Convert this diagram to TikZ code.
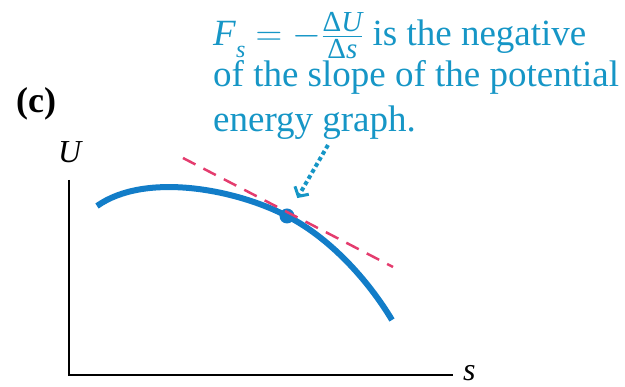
\RequirePackage{fix-cm}
\documentclass[tikz,border=0pt]{standalone}
\usepackage{amsmath}
\usepackage{fontspec}
\setmainfont{Liberation Serif}
\usetikzlibrary{arrows.meta,calc,positioning}
\definecolor{notecyan}{RGB}{22,150,198}
\definecolor{curveblue}{RGB}{18,125,200}
\definecolor{tanred}{RGB}{228,60,110}
\newcommand{\fracpart}[1]{\text{\fontsize{29}{29}\selectfont #1}}

\begin{document}
\begin{tikzpicture}[x=1pt,y=-1pt,>=Stealth,
  lbl/.style={inner sep=0pt,font=\fontsize{32}{36}\selectfont},
  note/.style={inner sep=0pt,align=left,text=notecyan,font=\fontsize{37}{37}\selectfont}]
\useasboundingbox (0,0) rectangle (625,387);
% axes
\coordinate (O) at (69,375);
\coordinate (ytop) at (69,180);
\coordinate (xend) at (453,375);
\draw[line width=2pt] (ytop)--(O)--(xend);
\node[lbl,anchor=base west] (ulab) at (58,163) {\itshape U};
\node[lbl,anchor=base west] (slab) at (463,381) {\itshape s};
\node[lbl,anchor=base west,font=\fontsize{36}{36}\selectfont\bfseries] (tag) at (16,113) {(c)};
% potential energy curve
\draw[curveblue,line width=6pt] (97,206) .. controls (145,172) and (235,189) .. (287,216)
  .. controls (330,238) and (368,280) .. (392,320);
\node[circle,fill=curveblue,inner sep=0pt,minimum size=15pt] (pt) at (287,216) {};
% tangent line
\draw[tanred,line width=2.5pt,dash pattern=on 14pt off 9pt] (183,158)--(393,267);
% note and arrow
\node[note,anchor=north west] (note) at (213,12)
  {\textit{F}\raisebox{-12pt}{\fontsize{24}{24}\selectfont\itshape s}%
   $\;=-\frac{\fracpart{Δ\itshape U}}{\fracpart{Δ\itshape s}}$ is the negative\\
   of the slope of the potential\\[8pt]
   energy graph.};
\coordinate (tail) at (328,145);
\draw[notecyan,line width=4pt,dash pattern=on 4pt off 3pt,shorten >=13pt,
  -{Straight Barb[length=7pt,width=16pt,line width=3pt]}] (tail)--(pt);
\end{tikzpicture}
\end{document}
